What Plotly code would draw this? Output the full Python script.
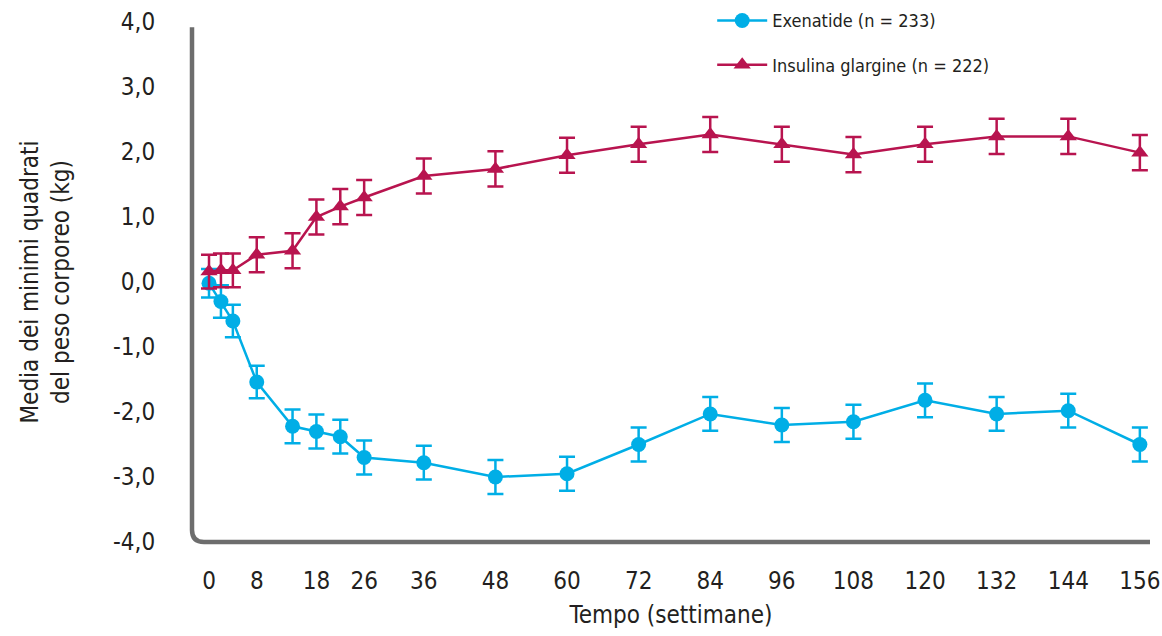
import plotly.graph_objects as go

weeks = [0, 2, 4, 8, 14, 18, 22, 26, 36, 48, 60, 72, 84, 96, 108, 120, 132, 144, 156]
exenatide = [-0.02, -0.30, -0.60, -1.54, -2.22, -2.30, -2.38, -2.70, -2.78, -3.00, -2.95, -2.50, -2.03, -2.20, -2.15, -1.82, -2.03, -1.98, -2.50]
exenatide_err = [0.22, 0.25, 0.25, 0.25, 0.26, 0.26, 0.26, 0.26, 0.26, 0.26, 0.26, 0.26, 0.26, 0.26, 0.26, 0.26, 0.26, 0.26, 0.26]
glargine = [0.16, 0.18, 0.18, 0.42, 0.48, 1.00, 1.16, 1.30, 1.63, 1.74, 1.95, 2.12, 2.27, 2.12, 1.96, 2.12, 2.24, 2.24, 1.99]
glargine_err = [0.26, 0.26, 0.26, 0.27, 0.27, 0.27, 0.27, 0.27, 0.27, 0.27, 0.27, 0.27, 0.27, 0.27, 0.27, 0.27, 0.27, 0.27, 0.27]

x_ticks = [0, 8, 18, 26, 36, 48, 60, 72, 84, 96, 108, 120, 132, 144, 156]
y_ticks = [4, 3, 2, 1, 0, -1, -2, -3, -4]
y_labels = ["4,0", "3,0", "2,0", "1,0", "0,0", "-1,0", "-2,0", "-3,0", "-4,0"]

CYAN = "#00aee6"
RED = "#b8144f"
FONT = "DejaVu Sans Condensed"

fig = go.Figure()
fig.add_trace(go.Scatter(
    x=weeks, y=exenatide, mode="lines+markers", name="Exenatide (n = 233)",
    legendgroup="a",
    line=dict(color=CYAN, width=2.5),
    marker=dict(symbol="circle", size=15, color=CYAN),
    error_y=dict(type="data", array=exenatide_err, color=CYAN, thickness=2.5, width=8),
))
fig.add_trace(go.Scatter(
    x=weeks, y=glargine, mode="lines+markers", name="Insulina glargine (n = 222)",
    legendgroup="b",
    line=dict(color=RED, width=2.5),
    marker=dict(symbol="triangle-up", size=15, color=RED),
    error_y=dict(type="data", array=glargine_err, color=RED, thickness=2.5, width=8),
))

# axis frame with rounded corner
rx = 12 / 958
ry = 12 / 520
fig.add_shape(type="path", xref="paper", yref="paper",
              path=f"M 0,0.99 L 0,{ry} Q 0,0 {rx},0 L 1,0",
              line=dict(color="#6d6d6d", width=4.5))

fig.update_layout(
    width=1162, height=636,
    paper_bgcolor="white", plot_bgcolor="white",
    margin=dict(l=192, r=12, t=22, b=94, autoexpand=False),
    font=dict(family=FONT, color="#231f20", size=24),
    showlegend=True,
    legend=dict(x=0.543, y=1.038, xanchor="left", yanchor="top",
                font=dict(size=18, family=FONT, color="#231f20"),
                bgcolor="rgba(0,0,0,0)", tracegroupgap=18, itemwidth=50),
    xaxis=dict(range=[-2.85, 157.7], tickmode="array", tickvals=x_ticks,
               ticks="outside", ticklen=17, tickcolor="rgba(0,0,0,0)",
               showgrid=False, zeroline=False, showline=False, automargin=False,
               tickfont=dict(size=24),
               title=dict(text="Tempo (settimane)", font=dict(size=24), standoff=12)),
    yaxis=dict(range=[-4, 4], tickmode="array", tickvals=y_ticks, ticktext=y_labels,
               ticks="outside", ticklen=31, tickcolor="rgba(0,0,0,0)",
               showgrid=False, zeroline=False, showline=False, automargin=False,
               tickfont=dict(size=24),
               title=dict(text="Media dei minimi quadrati<br>del peso corporeo (kg)",
                          font=dict(size=24), standoff=36)),
)

fig.write_html("out.html",
               config={"displayModeBar": False},
               post_script="document.body.style.margin='0';document.body.style.overflow='hidden';")
